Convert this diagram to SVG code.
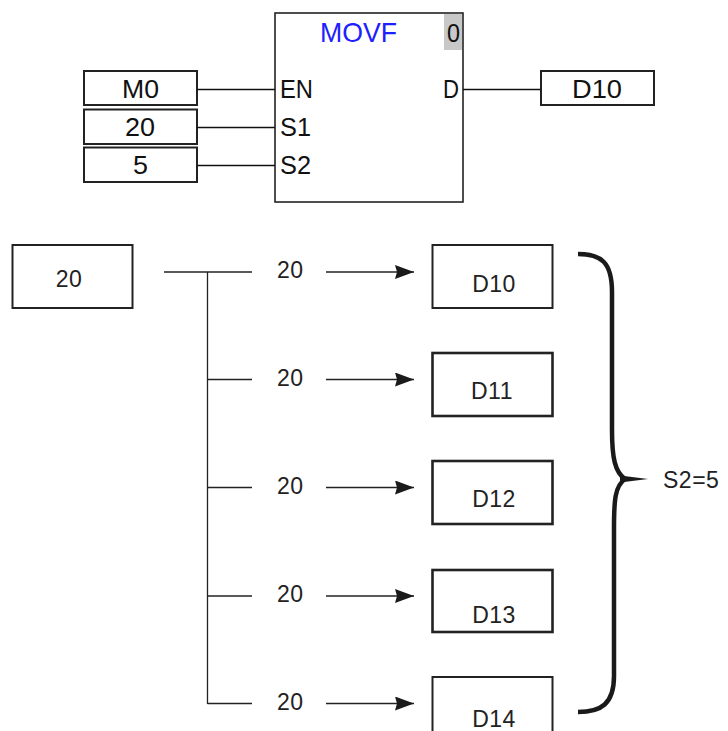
<svg xmlns="http://www.w3.org/2000/svg" width="728" height="731" viewBox="0 0 728 731">
<style>
  .box{fill:#fff;stroke:#222;stroke-width:2}
  .fb{fill:#fff;stroke:#222;stroke-width:1.6}
  .ln{stroke:#111;stroke-width:1.6;fill:none}
  .thin{stroke:#222;stroke-width:1.3;fill:none}
  .t{font-family:"Liberation Sans",Arial,sans-serif;font-size:26.5px;fill:#111}
  .b{font-family:"Liberation Sans",Arial,sans-serif;font-size:23px;fill:#222;letter-spacing:0.5px}
  .mid{text-anchor:middle}
  .brace{fill:none;stroke:#1a1a1a;stroke-width:4.5;stroke-linecap:butt}
</style>
<defs>
  <marker id="ah" markerWidth="19" markerHeight="14" refX="19" refY="7" orient="auto" markerUnits="userSpaceOnUse">
    <path d="M0,0 L19,7 L0,14 L2,7 Z" fill="#1a1a1a"/>
  </marker>
</defs>

<g id="movf">
  <rect class="fb" x="275" y="13" width="188" height="189"/>
  <rect x="444" y="14" width="18" height="36" fill="#c8c8c8"/>
  <text class="t" x="320" y="42" style="fill:#2020ff;font-size:28px" textLength="77" lengthAdjust="spacingAndGlyphs">MOVF</text>
  <text class="t" x="447" y="42" textLength="13" lengthAdjust="spacingAndGlyphs">0</text>
  <text class="t" x="280" y="98" textLength="33" lengthAdjust="spacingAndGlyphs">EN</text>
  <text class="t" x="280" y="136" textLength="31" lengthAdjust="spacingAndGlyphs">S1</text>
  <text class="t" x="280" y="174" textLength="31" lengthAdjust="spacingAndGlyphs">S2</text>
  <text class="t" x="443" y="98" textLength="16" lengthAdjust="spacingAndGlyphs">D</text>
</g>
<g id="in-m0">
  <rect class="box" x="84" y="71" width="113" height="34"/>
  <text class="t" x="122" y="98" textLength="37" lengthAdjust="spacingAndGlyphs">M0</text>
</g>
<g id="in-20">
  <rect class="box" x="84" y="109.5" width="113" height="34.5"/>
  <text class="t" x="125" y="136" textLength="30" lengthAdjust="spacingAndGlyphs">20</text>
</g>
<g id="in-5">
  <rect class="box" x="84" y="147.5" width="113" height="34.5"/>
  <text class="t" x="133" y="174" textLength="15" lengthAdjust="spacingAndGlyphs">5</text>
</g>
<g id="out-d10">
  <rect class="box" x="541" y="71" width="113" height="34"/>
  <text class="t" x="572" y="98" textLength="50" lengthAdjust="spacingAndGlyphs">D10</text>
</g>

<g id="src">
  <rect class="box" x="12.5" y="245" width="120" height="63"/>
  <text class="b mid" x="69" y="287">20</text>
</g>
<g id="d10">
  <rect class="box" x="432.5" y="245" width="120" height="63"/>
  <text class="b mid" x="494" y="292">D10</text>
</g>
<g id="d11">
  <rect class="box" x="432.5" y="353" width="120" height="63" style="stroke-width:2.6"/>
  <text class="b mid" x="492" y="399">D11</text>
</g>
<g id="d12">
  <rect class="box" x="432.5" y="461" width="120" height="63" style="stroke-width:2.6"/>
  <text class="b mid" x="494" y="507">D12</text>
</g>
<g id="d13">
  <rect class="box" x="432.5" y="570" width="120" height="62" style="stroke-width:2.6"/>
  <text class="b mid" x="494" y="623">D13</text>
</g>
<g id="d14">
  <rect class="box" x="432.5" y="677" width="120" height="62"/>
  <text class="b mid" x="494" y="727">D14</text>
</g>
<g id="s2label">
  <path class="brace" d="M578,254 C601,254 612,262 612,292 L612,430 C612,458 615,472 625,479 C615,486 614,500 614,528 L614,676 C614,704 601,712 578,712"/>
  <path d="M620,475.5 L648,479 L620,482.5 Z" fill="#1a1a1a"/>
  <text class="b" x="663" y="488">S2=5</text>
</g>

<g id="connectors">
  <line class="ln" x1="197" y1="89.5" x2="275" y2="89.5"/>
  <line class="ln" x1="197" y1="127.5" x2="275" y2="127.5"/>
  <line class="ln" x1="197" y1="165.5" x2="275" y2="165.5"/>
  <line class="ln" x1="463" y1="89.5" x2="541" y2="89.5"/>

  <line class="thin" x1="164" y1="272" x2="252" y2="272"/>
  <line class="thin" x1="207.5" y1="272" x2="207.5" y2="704"/>
  <line class="thin" x1="207.5" y1="379.5" x2="252" y2="379.5"/>
  <line class="thin" x1="207.5" y1="487.5" x2="252" y2="487.5"/>
  <line class="thin" x1="207.5" y1="596" x2="252" y2="596"/>
  <line class="thin" x1="207.5" y1="703.5" x2="252" y2="703.5"/>

  <g class="b">
    <text x="277" y="278">20</text>
    <text x="277" y="386">20</text>
    <text x="277" y="494">20</text>
    <text x="277" y="602">20</text>
    <text x="277" y="710">20</text>
  </g>
  <line class="thin" x1="326" y1="272" x2="414" y2="272" marker-end="url(#ah)"/>
  <line class="thin" x1="326" y1="379.5" x2="414" y2="379.5" marker-end="url(#ah)"/>
  <line class="thin" x1="326" y1="487.5" x2="414" y2="487.5" marker-end="url(#ah)"/>
  <line class="thin" x1="326" y1="596" x2="414" y2="596" marker-end="url(#ah)"/>
  <line class="thin" x1="326" y1="703.5" x2="414" y2="703.5" marker-end="url(#ah)"/>
</g>
</svg>
